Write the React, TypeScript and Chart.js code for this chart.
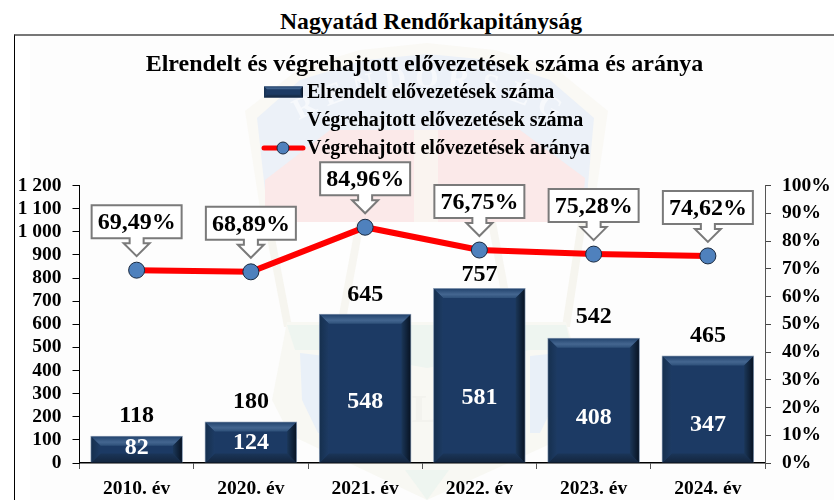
import React, { useEffect, useRef } from "react";
import { Chart, registerables } from "chart.js";

Chart.register(...registerables);

const pageTitle = "Nagyatád Rendőrkapitányság";
const chartTitle = "Elrendelt és végrehajtott elővezetések száma és aránya";
const categories = ["2010. év", "2020. év", "2021. év", "2022. év", "2023. év", "2024. év"];
const ordered = [118, 180, 645, 757, 542, 465];
const executed = [82, 124, 548, 581, 408, 347];
const ratio = [69.49, 68.89, 84.96, 76.75, 75.28, 74.62];
const orderedLabel = "Elrendelt elővezetések száma";
const executedLabel = "Végrehajtott elővezetések száma";
const ratioLabel = "Végrehajtott elővezetések aránya";

const SERIF = '"Liberation Serif", "Times New Roman", serif';
const OFF_X = 15;
const OFF_Y = 36;

function poly(ctx: CanvasRenderingContext2D, pts: number[][], fill: string) {
  ctx.beginPath();
  pts.forEach(([x, y], i) => {
    if (i === 0) ctx.moveTo(x - OFF_X, y - OFF_Y);
    else ctx.lineTo(x - OFF_X, y - OFF_Y);
  });
  ctx.closePath();
  ctx.fillStyle = fill;
  ctx.fill();
}

const watermark = {
  id: "watermark",
  beforeDraw(chart: any) {
    const ctx: CanvasRenderingContext2D = chart.ctx;
    ctx.save();
    ctx.fillStyle = "#fdfdfd";
    ctx.fillRect(15, 0, chart.width, chart.height);
    // shield rim
    poly(ctx, [[245, 111], [300, 68], [360, 50], [427, 43], [495, 50], [555, 68], [608, 111], [592, 222], [262, 222]], "#faf9f5");
    // blue band
    poly(ctx, [[257, 118], [300, 80], [365, 60], [427, 54], [490, 60], [550, 80], [594, 118], [585, 218], [268, 218]], "#ecf1f8");
    // red field
    poly(ctx, [[265, 180], [330, 130], [520, 130], [585, 178], [582, 222], [265, 222]], "#fbe9e9");
    // central pillar
    poly(ctx, [[414, 130], [438, 130], [438, 222], [414, 222]], "#faf4f0");
    // white central field with scale
    poly(ctx, [[265, 222], [582, 222], [575, 270], [280, 270]], "#fefefe");
    poly(ctx, [[264, 222], [272, 222], [292, 327], [284, 327]], "#f6f5ef");
    poly(ctx, [[578, 222], [586, 222], [570, 327], [562, 327]], "#f6f5ef");
    poly(ctx, [[356, 222], [364, 222], [346, 320], [338, 320]], "#f7f6f1");
    poly(ctx, [[488, 222], [496, 222], [514, 320], [506, 320]], "#f7f6f1");
    // lower badge
    poly(ctx, [[287, 322], [566, 322], [590, 400], [570, 435], [427, 500], [290, 435], [272, 400]], "#f8f8f3");
    poly(ctx, [[287, 325], [566, 325], [572, 350], [530, 350], [427, 368], [325, 350], [295, 350]], "#eef5f0");
    poly(ctx, [[300, 353], [325, 356], [325, 433], [318, 433], [302, 400]], "#e9f0f8");
    poly(ctx, [[530, 356], [558, 353], [556, 400], [540, 433], [530, 433]], "#e9f0f8");
    poly(ctx, [[405, 470], [449, 470], [427, 500]], "#eef5f0");
    // lettering
    const text = "RENDŐRSÉG";
    ctx.font = `bold 30px ${SERIF}`;
    ctx.fillStyle = "#f7f9fc";
    ctx.textAlign = "center";
    ctx.textBaseline = "middle";
    text.split("").forEach((ch, i) => {
      const a = ((i - (text.length - 1) / 2) * 6.7 * Math.PI) / 180;
      const cx = 427 + 271 * Math.sin(a) - OFF_X;
      const cy = 350 - 271 * Math.cos(a) - OFF_Y;
      ctx.save();
      ctx.translate(cx, cy);
      ctx.rotate(a);
      ctx.fillText(ch, 0, 0);
      ctx.restore();
    });
    ctx.font = `bold 40px ${SERIF}`;
    ctx.fillStyle = "#f3f3ee";
    ctx.fillText("L", 425 - OFF_X, 412 - OFF_Y);
    ctx.restore();
  },
};

function bevel(ctx: CanvasRenderingContext2D, x0: number, y0: number, x1: number, y1: number, b: number) {
  const trap = (pts: number[][], fill: string | CanvasGradient) => {
    ctx.beginPath();
    pts.forEach(([x, y], i) => (i === 0 ? ctx.moveTo(x, y) : ctx.lineTo(x, y)));
    ctx.closePath();
    ctx.fillStyle = fill;
    ctx.fill();
  };
  let g = ctx.createLinearGradient(0, y0, 0, y0 + b);
  g.addColorStop(0, "#24456f");
  g.addColorStop(0.6, "#446690");
  g.addColorStop(1, "#2e5079");
  trap([[x0, y0], [x1, y0], [x1 - b, y0 + b], [x0 + b, y0 + b]], g);
  g = ctx.createLinearGradient(0, y1 - b, 0, y1);
  g.addColorStop(0, "#1a3558");
  g.addColorStop(1, "#14263f");
  trap([[x0, y1], [x1, y1], [x1 - b, y1 - b], [x0 + b, y1 - b]], g);
  g = ctx.createLinearGradient(x0, 0, x0 + b, 0);
  g.addColorStop(0, "#16304f");
  g.addColorStop(1, "#1d3b64");
  trap([[x0, y0], [x0 + b, y0 + b], [x0 + b, y1 - b], [x0, y1]], g);
  g = ctx.createLinearGradient(x1 - b, 0, x1, 0);
  g.addColorStop(0, "#1b3759");
  g.addColorStop(1, "#081424");
  trap([[x1, y0], [x1 - b, y0 + b], [x1 - b, y1 - b], [x1, y1]], g);
}

const barBevel = {
  id: "barBevel",
  afterDatasetDraw(chart: any, args: any) {
    if (args.index !== 0) return;
    const ctx: CanvasRenderingContext2D = chart.ctx;
    ctx.save();
    args.meta.data.forEach((bar: any) => {
      const x0 = bar.x - bar.width / 2 + 1;
      const x1 = bar.x + bar.width / 2 - 1;
      bevel(ctx, x0, bar.y + 1, x1, bar.base, Math.min(9, (bar.base - bar.y) / 2.4));
    });
    ctx.restore();
  },
};

const annotations = {
  id: "annotations",
  afterDraw(chart: any) {
    const ctx: CanvasRenderingContext2D = chart.ctx;
    ctx.save();
    ctx.textAlign = "center";
    ctx.textBaseline = "middle";

    // bar value labels
    const above = [20, 20, 19.5, 13.5, 20.5, 20];
    const innerShift = [-5.5, -5.5, 2.5, 2.5, 2.5, 2.5];
    ctx.font = `bold 24px ${SERIF}`;
    chart.getDatasetMeta(0).data.forEach((bar: any, i: number) => {
      ctx.fillStyle = "#000";
      ctx.fillText(String(ordered[i]), bar.x, bar.y - above[i]);
    });
    chart.getDatasetMeta(1).data.forEach((bar: any, i: number) => {
      ctx.fillStyle = "#fff";
      ctx.fillText(String(executed[i]), bar.x, (bar.y + bar.base) / 2 + innerShift[i]);
    });

    // callouts above the line points
    chart.getDatasetMeta(2).data.forEach((pt: any, i: number) => {
      const left = pt.x - 45;
      const right = pt.x + 45;
      const bottom = pt.y - 32;
      const top = bottom - 33;
      const tip = pt.y - 14;
      ctx.beginPath();
      ctx.moveTo(left, top);
      ctx.lineTo(right, top);
      ctx.lineTo(right, bottom);
      ctx.lineTo(pt.x + 7, bottom);
      ctx.lineTo(pt.x + 7, bottom + 5);
      ctx.lineTo(pt.x + 13, bottom + 5);
      ctx.lineTo(pt.x, tip);
      ctx.lineTo(pt.x - 13, bottom + 5);
      ctx.lineTo(pt.x - 7, bottom + 5);
      ctx.lineTo(pt.x - 7, bottom);
      ctx.lineTo(left, bottom);
      ctx.closePath();
      ctx.fillStyle = "#fff";
      ctx.fill();
      ctx.strokeStyle = "#7a7a7a";
      ctx.lineWidth = 2;
      ctx.stroke();
      ctx.fillStyle = "#000";
      ctx.font = `bold 24px ${SERIF}`;
      ctx.fillText(ratio[i].toFixed(2).replace(".", ",") + "%", pt.x, (top + bottom) / 2 + 1.5);
    });

    // legend
    const legendX = 307 - OFF_X;
    const rows = [92 - OFF_Y, 120 - OFF_Y, 148 - OFF_Y];
    ctx.textAlign = "left";
    ctx.font = `bold 20px ${SERIF}`;
    ctx.fillStyle = "#000";
    ctx.fillText(orderedLabel, legendX, rows[0] + 1);
    ctx.fillText(executedLabel, legendX, rows[1] + 1);
    ctx.fillText(ratioLabel, legendX, rows[2] + 1);
    ctx.fillStyle = "#1c3a64";
    ctx.fillRect(264 - OFF_X, rows[0] - 5.5, 39, 11);
    bevel(ctx, 264 - OFF_X, rows[0] - 5.5, 303 - OFF_X, rows[0] + 5.5, 3);
    ctx.beginPath();
    ctx.moveTo(264 - OFF_X, rows[2]);
    ctx.lineTo(303 - OFF_X, rows[2]);
    ctx.strokeStyle = "#ff0000";
    ctx.lineWidth = 5;
    ctx.lineCap = "round";
    ctx.stroke();
    ctx.beginPath();
    ctx.arc(283 - OFF_X, rows[2], 6, 0, Math.PI * 2);
    ctx.fillStyle = "#4f81bd";
    ctx.fill();
    ctx.strokeStyle = "#1a2a40";
    ctx.lineWidth = 1;
    ctx.stroke();
    ctx.restore();
  },
};

export default function App() {
  const ref = useRef<HTMLCanvasElement | null>(null);
  useEffect(() => {
    const chart = new Chart(ref.current as HTMLCanvasElement, {
      type: "bar",
      data: {
        labels: categories,
        datasets: [
          {
            type: "bar",
            label: orderedLabel,
            data: ordered,
            yAxisID: "y",
            order: 2,
            grouped: false,
            backgroundColor: "#1c3a64",
            borderColor: "#8094ad",
            borderWidth: 1,
            barPercentage: 0.81,
            categoryPercentage: 1,
          },
          {
            type: "bar",
            label: executedLabel,
            data: executed,
            yAxisID: "y",
            order: 1,
            grouped: false,
            backgroundColor: "rgba(0,0,0,0)",
            borderWidth: 0,
            barPercentage: 0.81,
            categoryPercentage: 1,
          },
          {
            type: "line",
            label: ratioLabel,
            data: ratio,
            yAxisID: "y1",
            order: 0,
            borderColor: "#ff0000",
            borderWidth: 6,
            tension: 0,
            pointRadius: 8,
            pointBackgroundColor: "#4f81bd",
            pointBorderColor: "#1a2a40",
            pointBorderWidth: 1,
          },
        ],
      } as any,
      options: {
        responsive: false,
        animation: false,
        layout: { padding: 0 },
        plugins: {
          legend: { display: false },
          tooltip: { enabled: false },
          title: {
            display: true,
            text: chartTitle,
            color: "#000",
            font: { family: SERIF, size: 24, weight: "bold" },
            padding: { top: 14, bottom: 106.7 },
          },
        },
        scales: {
          x: {
            grid: {
              drawOnChartArea: false,
              drawTicks: true,
              tickLength: 6,
              tickColor: "#555",
              color: "#000",
            },
            border: { color: "#000", width: 1.5 },
            ticks: {
              color: "#000",
              padding: 8,
              maxRotation: 0,
              font: { family: SERIF, size: 19.5, weight: "bold" },
            },
            afterFit(scale: any) {
              scale.height = 37;
            },
          },
          y: {
            position: "left",
            min: 0,
            max: 1200,
            grid: { drawOnChartArea: false, tickLength: 7, tickColor: "#000" },
            border: { color: "#000", width: 1 },
            ticks: {
              stepSize: 100,
              autoSkip: false,
              color: "#000",
              padding: 11,
              font: { family: SERIF, size: 19.5, weight: "bold" },
              callback: (v: any) => (v >= 1000 ? `${Math.floor(v / 1000)} ${String(v % 1000).padStart(3, "0")}` : String(v)),
            },
            afterFit(scale: any) {
              scale.width = 64.5;
            },
          },
          y1: {
            position: "right",
            min: 0,
            max: 100,
            grid: { drawOnChartArea: false, tickLength: 6, tickColor: "#444" },
            border: { color: "#555", width: 1 },
            ticks: {
              stepSize: 10,
              autoSkip: false,
              color: "#000",
              padding: 11,
              font: { family: SERIF, size: 19.5, weight: "bold" },
              callback: (v: any) => `${v}%`,
            },
            afterFit(scale: any) {
              scale.width = 69;
            },
          },
        },
      } as any,
      plugins: [watermark, barBevel, annotations],
    });
    return () => chart.destroy();
  }, []);

  return (
    <div style={{ position: "absolute", left: 0, top: 0, width: 834, height: 500, overflow: "hidden", background: "#fff" }}>
      <div
        style={{
          position: "absolute",
          left: 0,
          top: 8,
          width: 862,
          textAlign: "center",
          font: `bold 23.7px ${SERIF}`,
          lineHeight: "26px",
          color: "#000",
        }}
      >
        {pageTitle}
      </div>
      <div
        style={{
          position: "absolute",
          left: 14,
          top: 34,
          width: 840,
          height: 480,
          borderLeft: "1px solid #000",
          borderTop: "2px solid #777",
        }}
      />
      <canvas ref={ref} width={819} height={464} style={{ position: "absolute", left: OFF_X, top: OFF_Y, display: "block" }} />
    </div>
  );
}
